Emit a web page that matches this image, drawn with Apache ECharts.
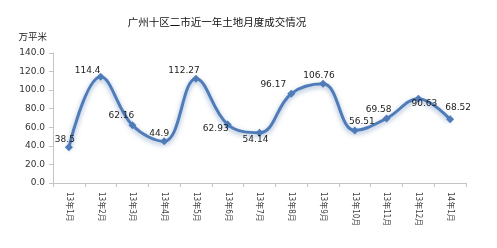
<!DOCTYPE html>
<html><head><meta charset="utf-8">
<script src="https://cdn.jsdelivr.net/npm/echarts@6/dist/echarts.min.js"></script>
<style>html,body{margin:0;padding:0;background:#fff}#c{width:497px;height:248px}</style>
</head><body><div id="c"></div>
<script>
var categories = ['13年1月','13年2月','13年3月','13年4月','13年5月','13年6月','13年7月','13年8月','13年9月','13年10月','13年11月','13年12月','14年1月'];
var values = [38.5,114.4,62.16,44.9,112.27,62.93,54.14,96.17,106.76,56.51,69.58,90.63,68.52];
var valueLabels = ['38.5','114.4','62.16','44.9','112.27','62.93','54.14','96.17','106.76','56.51','69.58','90.63','68.52'];
var yTicks = [0,20,40,60,80,100,120,140];
var labelOffsets = [[-4,-8],[-13,-6],[-11,-10],[-5,-8],[-12,-8],[-12,4],[-4,7],[-18,-9],[-4,-8],[7,-9],[-8,-9],[6,5],[8,-12]];

var chart = echarts.init(document.getElementById('c'));
var font = 'Verdana, "DejaVu Sans", "Noto Sans CJK SC", sans-serif';
var cjk = '"Noto Sans CJK SC", sans-serif';
chart.setOption({
  animation:false,
  title:{text:'广州十区二市近一年土地月度成交情况', left:212, top:12, textAlign:'center',
    textStyle:{fontSize:10.5, fontWeight:'normal', color:'#111', fontFamily:cjk}},
  grid:{left:53, right:31, top:53, bottom:65},
  xAxis:{type:'category', data:categories, boundaryGap:true,
    axisLine:{lineStyle:{color:'#c4c4c4'}},
    axisTick:{show:true, lineStyle:{color:'#c4c4c4'}, length:4},
    axisLabel:{rotate:-90, fontSize:8, color:'#444', margin:9, fontFamily:'"DejaVu Sans Condensed", "Noto Sans CJK SC", sans-serif'}},
  yAxis:{type:'value', min:0, max:140, interval:20,
    name:'万平米', nameLocation:'end', nameGap:12,
    nameTextStyle:{fontSize:9.5, color:'#222', align:'right', padding:[0,6,0,0], fontFamily:cjk},
    axisLine:{show:true, lineStyle:{color:'#c4c4c4'}},
    axisTick:{show:true, lineStyle:{color:'#c4c4c4'}, length:4},
    splitLine:{show:false},
    axisLabel:{fontSize:9, color:'#333', margin:8, fontFamily:font,
      formatter:function(v){return yTicks.indexOf(v)>=0 ? v.toFixed(1) : '';}}},
  series:[{
    type:'line', smooth:0.4, data:values.map(function(v,i){
      return {value:v, label:{position:'inside', offset:labelOffsets[i], formatter:valueLabels[i]}};
    }),
    symbol:'diamond', symbolSize:8,
    lineStyle:{color:'#4f7cb8', width:3, shadowColor:'rgba(70,110,170,0.55)', shadowBlur:5, shadowOffsetY:2},
    itemStyle:{color:'#4f7cb8'},
    label:{show:true, fontSize:9, color:'#222', fontFamily:font}
  }]
});
</script></body></html>
